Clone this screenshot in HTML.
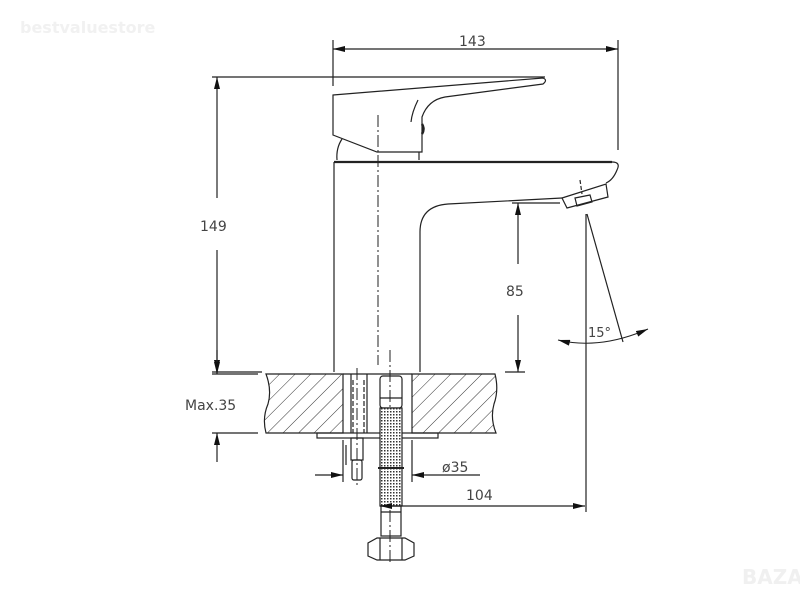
<!DOCTYPE html>
<html><head><meta charset="utf-8"><style>
body{margin:0;background:#fff;}
svg{display:block;}
text{font-family:"DejaVu Sans","Liberation Sans",sans-serif;fill:#444;}
</style></head><body>
<svg width="800" height="600" viewBox="0 0 800 600" xmlns="http://www.w3.org/2000/svg">
<defs>
<pattern id="hatch" patternUnits="userSpaceOnUse" width="11" height="11" patternTransform="rotate(45)">
<line x1="0" y1="0" x2="0" y2="11" stroke="#333" stroke-width="1"/>
</pattern>
<pattern id="mesh" patternUnits="userSpaceOnUse" width="3" height="3">
<rect width="3" height="3" fill="#fff"/><rect width="1.5" height="1.5" fill="#333"/>
</pattern>
<marker id="ar" markerWidth="12" markerHeight="6" refX="12" refY="3" orient="auto" markerUnits="userSpaceOnUse">
<path d="M0,0 L12,3 L0,6 Z" fill="#111"/></marker>
<marker id="al" markerWidth="12" markerHeight="6" refX="0" refY="3" orient="auto" markerUnits="userSpaceOnUse">
<path d="M12,0 L0,3 L12,6 Z" fill="#111"/></marker>
</defs>
<text x="20" y="33" font-size="16" font-weight="bold" style="fill:#f1f1f1">bestvaluestore</text>
<text x="742" y="584" font-size="20" font-weight="bold" style="fill:#f0f0f0">BAZAR</text>

<g stroke="#222" stroke-width="1.2" fill="none">
<line x1="333" y1="40" x2="333" y2="86"/>
<line x1="618" y1="40" x2="618" y2="150"/>
<line x1="333" y1="49" x2="618" y2="49" marker-start="url(#al)" marker-end="url(#ar)"/>
<line x1="212" y1="77" x2="545" y2="77"/>
<line x1="217" y1="77" x2="217" y2="198" marker-start="url(#al)"/>
<line x1="217" y1="250" x2="217" y2="372" marker-end="url(#ar)"/>
<line x1="212" y1="372" x2="262" y2="372"/>
<path d="M333,95 L543,78 Q548,80 543,84 L445,97 Q428,100 422,117 L422,152 L377,152 L333,135 Z"/>
<path d="M418,100 Q412,112 411,122"/>
<path d="M422,124 q3,5 0,10" stroke-width="2.5"/>
<path d="M342,139 Q336,148 337,160"/>
<line x1="419" y1="152" x2="419" y2="160"/>
<line x1="334" y1="162" x2="612" y2="162" stroke-width="2.2"/>
<path d="M612,162 Q621,162 617,170 Q613,180 606,183"/>
<line x1="334" y1="162" x2="334" y2="372"/>
<path d="M420,372 L420,232 Q420,206 448,204 L562,198"/>
<path d="M562,198 L606,184 L608,197 L567,208 Z"/>
<path d="M575,198 L590,195 L592,202 L577,206 Z"/>
<line x1="580" y1="180" x2="582" y2="194" stroke-dasharray="4 2"/>
<line x1="512" y1="203" x2="560" y2="203"/>
<line x1="518" y1="203" x2="518" y2="264" marker-start="url(#al)"/>
<line x1="518" y1="315" x2="518" y2="372" marker-end="url(#ar)"/>
<line x1="505" y1="372" x2="525" y2="372"/>
<line x1="586" y1="214" x2="586" y2="512"/>
<line x1="587" y1="214" x2="623" y2="342"/>
<path d="M558,340 Q600,350 648,329" marker-start="url(#al)" marker-end="url(#ar)" stroke-width="1"/>
<line x1="378" y1="115" x2="378" y2="365" stroke-dasharray="12 3 2 3" stroke-width="1"/>
<line x1="390" y1="350" x2="390" y2="562" stroke-dasharray="12 3 2 3" stroke-width="1"/>
<line x1="357" y1="368" x2="357" y2="485" stroke-dasharray="12 3 2 3" stroke-width="1"/>
</g>

<path d="M266,374 L343,374 L343,433 L266,433 Q262,418 268,404 Q272,390 266,374 Z" fill="url(#hatch)" stroke="#222" stroke-width="1.2"/>
<path d="M412,374 L495,374 Q499,390 494,404 Q490,418 496,433 L412,433 Z" fill="url(#hatch)" stroke="#222" stroke-width="1.2"/>
<g stroke="#222" stroke-width="1.2" fill="none">
<line x1="343" y1="374" x2="412" y2="374"/>
<rect x="317" y="433" width="121" height="5"/>
<line x1="351" y1="374" x2="351" y2="433"/><line x1="367" y1="374" x2="367" y2="433"/>
<line x1="353" y1="380" x2="353" y2="433" stroke-dasharray="5 2"/><line x1="364" y1="380" x2="364" y2="433" stroke-dasharray="5 2"/>
<rect x="351" y="438" width="12" height="22"/>
<rect x="352" y="460" width="10" height="20" rx="2"/>
<line x1="346" y1="445" x2="346" y2="465"/>
<rect x="380" y="376" width="22" height="32" rx="3"/>
<line x1="380" y1="398" x2="402" y2="398"/>
<rect x="380" y="408" width="22" height="98" fill="url(#mesh)"/>
<line x1="378" y1="468" x2="404" y2="468" stroke-width="2"/>
<rect x="381" y="506" width="20" height="30"/>
<line x1="381" y1="512" x2="401" y2="512"/>
<path d="M377,538 L405,538 L414,543 L414,556 L405,560 L377,560 L368,556 L368,543 Z"/>
<line x1="380" y1="538" x2="380" y2="560"/><line x1="402" y1="538" x2="402" y2="560"/>
<line x1="212" y1="374" x2="258" y2="374"/>
<line x1="212" y1="433" x2="258" y2="433"/>
<line x1="217" y1="350" x2="217" y2="374" marker-end="url(#ar)"/>
<line x1="217" y1="433" x2="217" y2="462" marker-start="url(#al)"/>
<line x1="343" y1="440" x2="343" y2="482"/>
<line x1="412" y1="440" x2="412" y2="482"/>
<line x1="315" y1="475" x2="343" y2="475" marker-end="url(#ar)"/>
<line x1="412" y1="475" x2="480" y2="475" marker-start="url(#al)"/>
<line x1="380" y1="506" x2="585" y2="506" marker-start="url(#al)" marker-end="url(#ar)"/>
</g>
<g font-size="14">
<text x="459" y="46">143</text>
<text x="200" y="231">149</text>
<text x="506" y="296">85</text>
<text x="588" y="337" font-size="13">15°</text>
<text x="185" y="410">Max.35</text>
<text x="442" y="472">ø35</text>
<text x="466" y="500">104</text>
</g>
</svg>
</body></html>
